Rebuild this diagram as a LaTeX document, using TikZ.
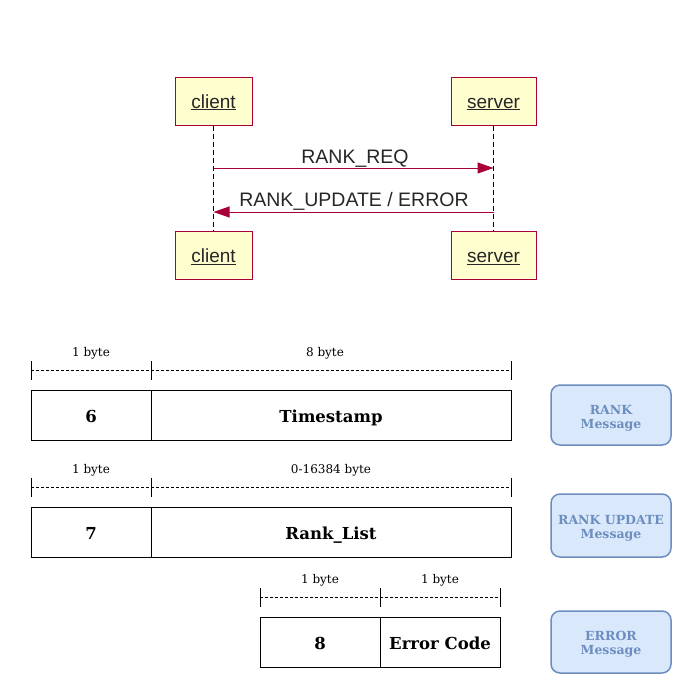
\documentclass[tikz,border=0pt]{standalone}
\usepackage{fontspec}
\setmainfont{DejaVu Serif}
\newfontfamily\seqfont{Liberation Sans}
\usetikzlibrary{arrows.meta}
\definecolor{umlred}{HTML}{A80036}
\definecolor{umlfill}{HTML}{FEFECE}
\definecolor{bluefill}{HTML}{DAE8FC}
\definecolor{bluedraw}{HTML}{6C8EBF}
\begin{document}
\begin{tikzpicture}[x=1pt,y=-1pt,
  actor/.style={draw=umlred,fill=umlfill,line width=1pt,minimum height=48pt,inner sep=0pt,text height=14pt,text depth=0pt,font=\seqfont\fontsize{19}{22}\selectfont,text=black!85},
  lifeline/.style={dash pattern=on 5pt off 3pt,line width=1pt},
  msg/.style={draw=umlred,line width=1pt,-{Triangle[length=16pt,width=11pt]}},
  msglabel/.style={font=\seqfont\fontsize{19.5}{22}\selectfont,text=black!85,inner sep=0pt},
  field/.style={draw,line width=0.8pt,minimum height=50pt,inner sep=0pt,text height=14pt,text depth=0pt,font=\bfseries\fontsize{16.5}{19}\selectfont},
  bytelbl/.style={font=\fontsize{12}{14}\selectfont,inner sep=0pt},
  tick/.style={line width=0.8pt},
  dashln/.style={line width=0.8pt,dash pattern=on 3pt off 2pt},
  tag/.style={draw=bluedraw,fill=bluefill,line width=1.5pt,rounded corners=9pt,minimum width=120pt,inner sep=0pt},
  tagtext/.style={text=bluedraw,align=center,font=\bfseries\fontsize{12.5}{14}\selectfont,inner sep=0pt}
]
\useasboundingbox (0,0) rectangle (692,675);

% sequence diagram
\node[actor,minimum width=77pt] (c1) at (213.5,101) {\underline{client}};
\node[actor,minimum width=85pt] (s1) at (493.5,101) {\underline{server}};
\node[actor,minimum width=77pt] (c2) at (213.5,255.5) {\underline{client}};
\node[actor,minimum width=85pt] (s2) at (493.5,255.5) {\underline{server}};
\draw[lifeline] (c1.south) -- (c2.north);
\draw[lifeline] (s1.south) -- (s2.north);
\coordinate (ca) at (c1.south |- 0,168);
\coordinate (sa) at (s1.south |- 0,168);
\coordinate (cb) at (c1.south |- 0,212);
\coordinate (sb) at (s1.south |- 0,212);
\draw[msg] (ca) -- (sa);
\draw[msg] (sb) -- (cb);
\node[msglabel] (l1) at (355,158.5) {RANK\_REQ};
\node[msglabel] (l2) at (354,201.5) {RANK\_UPDATE / ERROR};

% RANK message
\draw[tick] (31,361) -- (31,380);
\draw[tick] (151,361) -- (151,380);
\draw[tick] (511,361) -- (511,380);
\draw[dashln] (31,370) -- (511,370);
\node[bytelbl] (b11) at (91,353) {1 byte};
\node[bytelbl] (b12) at (325,353) {8 byte};
\node[field,minimum width=120pt] (f11) at (91,415) {6};
\node[field,minimum width=360pt] (f12) at (331,415) {Timestamp};

% RANK UPDATE message
\draw[tick] (31,478) -- (31,497);
\draw[tick] (151,478) -- (151,497);
\draw[tick] (511,478) -- (511,497);
\draw[dashln] (31,487) -- (511,487);
\node[bytelbl] (b21) at (91,470) {1 byte};
\node[bytelbl] (b22) at (331,470) {0-16384 byte};
\node[field,minimum width=120pt] (f21) at (91,532) {7};
\node[field,minimum width=360pt] (f22) at (331,532) {Rank\_List};

% ERROR message
\draw[tick] (260,588) -- (260,607);
\draw[tick] (380,588) -- (380,607);
\draw[tick] (500,588) -- (500,607);
\draw[dashln] (260,597) -- (500,597);
\node[bytelbl] (b31) at (320,580) {1 byte};
\node[bytelbl] (b32) at (440,580) {1 byte};
\node[field,minimum width=120pt] (f31) at (320,642) {8};
\node[field,minimum width=120pt] (f32) at (440,642) {Error Code};

% tags
\node[tag,minimum height=60pt] (t1) at (611,415) {};
\node[tag,minimum height=63pt] (t2) at (611,525.5) {};
\node[tag,minimum height=62pt] (t3) at (611,642) {};
\node[tagtext] (t1x) at ([yshift=-3.5pt]t1.center) {RANK\\Message};
\node[tagtext] (t2x) at ([yshift=-3pt]t2.center) {RANK UPDATE\\Message};
\node[tagtext] (t3x) at ([yshift=-2pt]t3.center) {ERROR\\Message};
\end{tikzpicture}
\end{document}
